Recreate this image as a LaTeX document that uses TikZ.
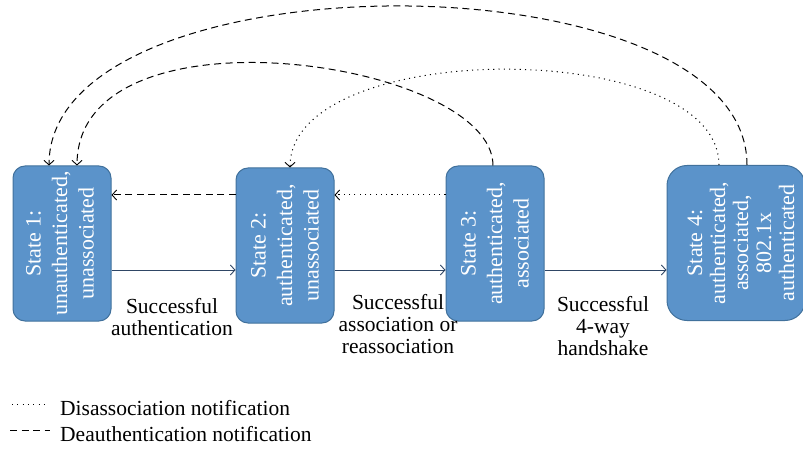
\documentclass[tikz,border=0pt]{standalone}
\usepackage{fontspec}
\setmainfont{Liberation Serif}
\usetikzlibrary{arrows.meta,calc}
\definecolor{boxfill}{HTML}{5B93CA}
\definecolor{boxline}{HTML}{41719C}
\definecolor{flowcol}{HTML}{2F4665}
\tikzset{
  statebox/.style={draw=boxline, line width=1pt, fill=boxfill, rounded corners=12pt,
    minimum width=98pt, minimum height=155pt, inner sep=0pt},
  statetext/.style={text=white, rotate=90, align=center, inner sep=0pt,
    font=\fontsize{22}{26.5}\selectfont},
  lbl/.style={align=center, inner sep=0pt, font=\fontsize{21.5}{22}\selectfont},
  legtext/.style={anchor=west, inner sep=0pt, font=\fontsize{21.5}{24}\selectfont},
  tip/.style={-{Straight Barb[length=4.5pt,width=10pt,line width=0.9pt]}},
  flow/.style={tip, draw=flowcol, line width=1pt},
  deauth/.style={tip, black, line width=1pt, dash pattern=on 7pt off 4.5pt},
  disassoc/.style={tip, black, line width=1pt, dash pattern=on 1.1pt off 4.2pt},
}
\begin{document}
\begin{tikzpicture}[x=1pt,y=-1pt]
\useasboundingbox (0,0) rectangle (803,449);
% state boxes
\node[statebox] (s1) at (62,243.5) {};
\node[statetext] (t1) at ([xshift=-2pt]s1.center) {State 1:\\unauthenticated,\\unassociated};
\node[statebox] (s2) at (285,245.5) {};
\node[statetext] (t2) at (s2.center) {State 2:\\authenticated,\\unassociated};
\node[statebox] (s3) at (495,243.5) {};
\node[statetext] (t3) at (s3.center) {State 3:\\authenticated,\\associated};
\node[statebox, rounded corners=20pt, minimum width=138pt] (s4) at (736,243) {};
\node[statetext, font=\fontsize{22}{23}\selectfont] (t4) at ([xshift=5pt]s4.center) {State 4:\\authenticated,\\associated,\\802.1x\\authenticated};
% forward transitions
\draw[flow] ($(s1.east)+(0,26.5)$) -- ($(s2.west)+(0,24.5)$);
\draw[flow] ($(s2.east)+(0,24.5)$) -- ($(s3.west)+(0,26.5)$);
\draw[flow] ($(s3.east)+(0,26.5)$) -- ($(s4.west)+(0,27)$);
% labels
\node[lbl] (l1) at (172,317) {Successful\\authentication};
\node[lbl] (l2) at (398,324) {Successful\\association or\\reassociation};
\node[lbl] (l3) at (603,326) {Successful\\4-way\\handshake};
% back transitions
\draw[deauth] ($(s2.west)+(0,-50.5)$) -- ($(s1.east)+(0,-48.5)$);
\draw[disassoc] ($(s3.west)+(0,-48.5)$) -- ($(s2.east)+(0,-50.5)$);
% arcs
\draw[deauth] ([xshift=11pt]s4.north) .. controls (747,-47) and (49,-47) .. ([xshift=-13pt]s1.north);
\draw[deauth] ([xshift=-2pt]s3.north) .. controls (493,60) and (77,0) .. ([xshift=15pt]s1.north);
\draw[disassoc] ([xshift=-17pt]s4.north) .. controls (719,37) and (290,37) .. ([xshift=5pt]s2.north);
% legend
\coordinate (d1) at (12,404);
\coordinate (d2) at (47,404);
\coordinate (e1) at (10,430);
\coordinate (e2) at (50,430);
\draw[black, line width=1pt, dash pattern=on 1.1pt off 4.2pt] (d1) -- (d2);
\draw[black, line width=1pt, dash pattern=on 7pt off 4.5pt] (e1) -- (e2);
\node[legtext] (g1) at (60,408) {Disassociation notification};
\node[legtext] (g2) at (60,434) {Deauthentication notification};
\end{tikzpicture}
\end{document}
